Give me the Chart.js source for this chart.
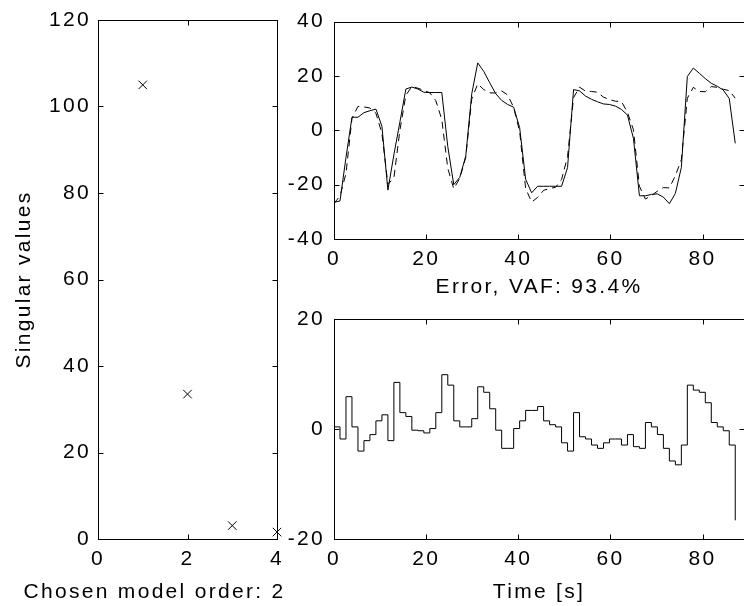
<!DOCTYPE html>
<html>
<head>
<meta charset="utf-8">
<script src="https://cdn.jsdelivr.net/npm/chart.js@4"></script>
<style>
html, body { margin: 0; padding: 0; background: #fff; overflow: hidden; }
body { width: 744px; height: 606px; position: relative; }
canvas { position: absolute; }
</style>
</head>
<body>
<canvas id="fitChart" style="left:250px;top:0" width="500" height="275"></canvas>
<canvas id="errChart" style="left:250px;top:270px" width="500" height="336"></canvas>
<canvas id="svChart" style="left:0;top:0" width="309" height="606"></canvas>
<script>
// singular values (left plot)
const orders = [1, 2, 3, 4];
const singularValues = [105, 33.5, 3.1, 1.6];

// time axis of the simulation [s]
const times = [0, 1.3, 2.6, 3.9, 5.2, 6.5, 7.8, 9.1, 10.4, 11.7, 13, 14.3, 15.6, 16.9, 18.2, 19.5,
  20.8, 22.1, 23.4, 24.7, 26, 27.3, 28.6, 29.9, 31.2, 32.5, 33.8, 35.1, 36.4, 37.7, 39, 40.3,
  41.6, 42.9, 44.2, 45.5, 46.8, 48.1, 49.4, 50.7, 52, 53.3, 54.6, 55.9, 57.2, 58.5, 59.8, 61.1,
  62.4, 63.7, 65, 66.3, 67.6, 68.9, 70.2, 71.5, 72.8, 74.1, 75.4, 76.7, 78, 79.3, 80.6, 81.9,
  83.2, 84.5, 85.8, 87.1];

// measured output (solid)
const measured = [-26.5, -26, -10, 4.8, 4.8, 6.5, 7.2, 7.8, 1.5, -22, -9, 3, 15.2, 15.9, 15.2, 14,
  13.9, 13.9, 13.9, -6, -20, -17.3, -9.5, 13.4, 24.8, 21.7, 17.5, 13.5, 11, 9.5, 8.5, 1,
  -18, -23, -20.6, -20.6, -20.6, -20.6, -20.6, -13.7, 15, 14.5, 12.6, 11.4, 10.5, 9.7, 9.5, 8.9,
  7.7, 5.6, -3, -24.1, -24.1, -23.6, -23.4, -24.6, -27, -23.2, -13.7, 19.8, 22.9, 21, 19, 17.3,
  16.2, 14.8, 11.7, -4.8];

// model output (dashed)
const simulated = [-26.9, -24.2, -15.9, 4.4, 8.8, 8.6, 8.2, 6.3, -1.1, -19.9, -17.5, 0, 12.9, 16.1, 15.5, 14.7,
  13.8, 10.9, 4, -14, -21.5, -17.7, -9.9, 11.5, 17.1, 15, 13.8, 13.7, 14.5, 13, 8.4, -0.5,
  -21.4, -26.4, -24.7, -22.1, -21.4, -21, -18.1, -9.7, 12, 15.9, 14.4, 14.3, 14, 12.2, 11.3, 10.7,
  10.6, 6.6, 0.2, -20.6, -25.3, -24, -22.4, -21.1, -21.2, -16.7, -10.8, 11.8, 15.8, 14.3, 14.2, 16.1,
  15.8, 15.1, 14.6, 11.8];

// prediction error (stairs)
const errors = [0.4, -1.8, 5.9, 0.4, -4, -2.1, -1, 1.5, 2.6, -2.1, 8.5, 3, 2.3, -0.2, -0.3, -0.7,
  0.1, 3, 9.9, 8, 1.5, 0.4, 0.4, 1.9, 7.7, 6.7, 3.7, -0.2, -3.5, -3.5, 0.1, 1.5,
  3.4, 3.4, 4.1, 1.5, 0.8, 0.4, -2.5, -4, 3, -1.4, -1.8, -2.9, -3.5, -2.5, -1.8, -1.8,
  -2.9, -1, -3.2, -3.5, 1.2, 0.4, -1, -3.5, -5.8, -6.5, -2.9, 8, 7.1, 6.7, 4.8, 1.2,
  0.4, -0.3, -2.9, -16.6];

const svTicks = [0, 20, 40, 60, 80, 100, 120];
const timeTicks = [0, 20, 40, 60, 80];

Chart.defaults.font.family = 'Liberation Sans, Arial, sans-serif';
Chart.defaults.font.size = 21;
Chart.defaults.color = '#000';
Chart.defaults.animation = false;
Chart.defaults.plugins.legend.display = false;
Chart.defaults.plugins.tooltip.enabled = false;

// matlab style box with inward ticks on every side
const matlabBox = {
  id: 'matlabBox',
  beforeUpdate(chart) { chart.ctx.letterSpacing = '2.3px'; },
  beforeDraw(chart) { chart.ctx.letterSpacing = '2.3px'; },
  afterDatasetsDraw(chart) {
    const {ctx, chartArea: a, scales} = chart;
    const L = Math.round(a.left) + 0.5, R = Math.round(a.right) + 0.5;
    const T = Math.round(a.top) + 0.5, B = Math.round(a.bottom) + 0.5;
    ctx.save();
    ctx.strokeStyle = '#000';
    ctx.lineWidth = 1;
    ctx.strokeRect(L, T, R - L, B - T);
    ctx.beginPath();
    scales.x.ticks.forEach(t => {
      const px = Math.round(scales.x.getPixelForValue(t.value)) + 0.5;
      ctx.moveTo(px, B); ctx.lineTo(px, B - 5);
      ctx.moveTo(px, T); ctx.lineTo(px, T + 5);
    });
    scales.y.ticks.forEach(t => {
      const py = Math.round(scales.y.getPixelForValue(t.value)) + 0.5;
      ctx.moveTo(L, py); ctx.lineTo(L + 5, py);
      ctx.moveTo(R, py); ctx.lineTo(R - 5, py);
    });
    ctx.stroke();
    ctx.restore();
  }
};

let axisX = function(min, max, step, height, title) {
  return {
    type: 'linear', min: min, max: max,
    grid: {display: false, drawTicks: false}, border: {display: false},
    ticks: {stepSize: step, includeBounds: false, padding: 8, maxRotation: 0},
    title: title ? {display: true, text: title, padding: {top: 0, bottom: 1}} : {display: false},
    afterFit: s => { s.height = height; }
  };
};
let axisY = function(min, max, step, width, pad, title) {
  return {
    type: 'linear', min: min, max: max,
    grid: {display: false, drawTicks: false}, border: {display: false},
    ticks: {stepSize: step, includeBounds: false, padding: pad},
    title: title ? {display: true, text: title, padding: {top: 12, bottom: 0}} : {display: false},
    afterFit: s => { s.width = width; }
  };
};

// left: singular values
new Chart(document.getElementById('svChart'), {
  type: 'scatter',
  data: {
    datasets: [{
      data: orders.map((o, i) => ({x: o, y: singularValues[i]})),
      pointStyle: 'crossRot',
      pointRadius: 6,
      borderColor: '#000',
      borderWidth: 1,
      clip: false
    }]
  },
  options: {
    responsive: false,
    layout: {padding: {top: 20, right: 0, left: 0, bottom: 0}},
    plugins: {
      title: {
        display: true,
        position: 'bottom',
        text: 'Chosen model order: 2',
        font: {size: 21, weight: 'normal'},
        padding: {top: 0, bottom: 1}
      }
    },
    scales: {
      x: axisX(0, 4, 2, 40.8, null),
      y: axisY(svTicks[0], svTicks[svTicks.length - 1], 20, 98, 7, 'Singular values'),
      // empty right axis, only keeps room so the title sits where it should
      yPad: {
        position: 'right', display: true,
        grid: {display: false, drawTicks: false}, border: {display: false},
        ticks: {display: false},
        afterFit: s => { s.width = 32; }
      }
    }
  },
  plugins: [matlabBox]
});

// top right: measured vs simulated output
new Chart(document.getElementById('fitChart'), {
  type: 'line',
  data: {
    datasets: [
      {
        data: times.map((t, i) => ({x: t, y: measured[i]})),
        borderColor: '#000', borderWidth: 1, pointRadius: 0, tension: 0
      },
      {
        data: times.map((t, i) => ({x: t, y: simulated[i]})),
        borderColor: '#000', borderWidth: 1, pointRadius: 0, tension: 0,
        borderDash: [7, 5]
      }
    ]
  },
  options: {
    responsive: false,
    layout: {padding: {top: 20, right: 6, left: 0, bottom: 0}},
    scales: {
      x: axisX(timeTicks[0], 89, 20, 36, null),
      y: axisY(-40, 40, 20, 84, 9, null)
    }
  },
  plugins: [matlabBox]
});

// bottom right: prediction error
new Chart(document.getElementById('errChart'), {
  type: 'line',
  data: {
    datasets: [{
      data: times.map((t, i) => ({x: t, y: errors[i]})),
      borderColor: '#000', borderWidth: 1, pointRadius: 0,
      stepped: 'before'
    }]
  },
  options: {
    responsive: false,
    layout: {padding: {top: 0, right: 6, left: 0, bottom: 0}},
    plugins: {
      title: {
        display: true,
        text: 'Error, VAF: 93.4%',
        fullSize: false,
        font: {size: 21, weight: 'normal'},
        padding: {top: 5, bottom: 19}
      }
    },
    scales: {
      x: axisX(timeTicks[0], 89, 20, 67, 'Time [s]'),
      y: axisY(-20, 20, 20, 84, 9, null)
    }
  },
  plugins: [matlabBox]
});
</script>
</body>
</html>
